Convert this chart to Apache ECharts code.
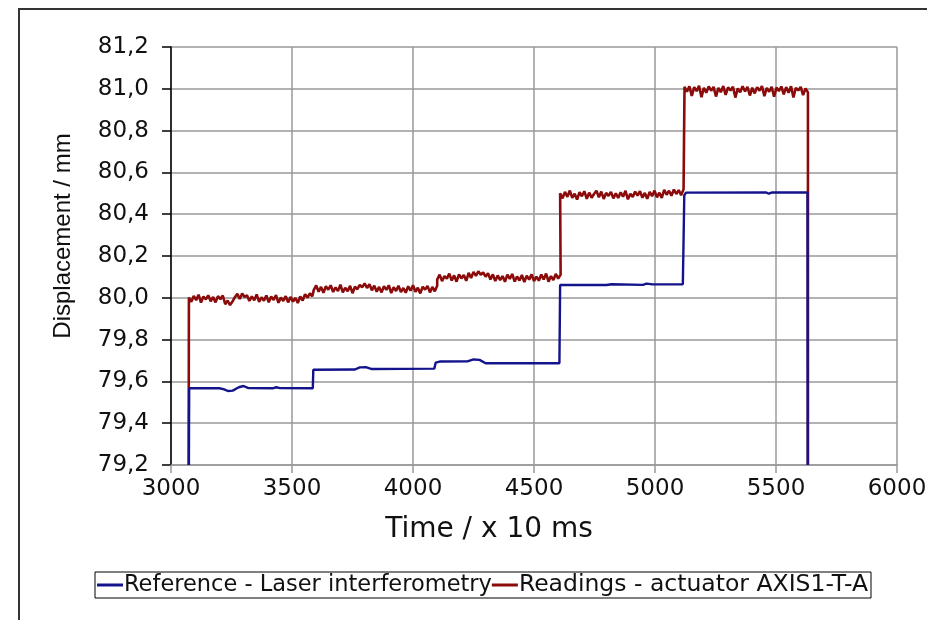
<!DOCTYPE html>
<html>
<head>
<meta charset="utf-8">
<script src="https://cdn.jsdelivr.net/npm/echarts@6/dist/echarts.min.js"></script>
<style>
  html, body { margin: 0; padding: 0; background: #fff; }
  #main { width: 927px; height: 620px; }
</style>
</head>
<body>
<div id="main"></div>
<script>
// x ticks: time in units of 10 ms
let xTicks = [3000, 3500, 4000, 4500, 5000, 5500, 6000];

// Reference - Laser interferometry
let refTime = [3074, 3075, 3200, 3220, 3235, 3255, 3280, 3300, 3320, 3420, 3435, 3450, 3586, 3588,
    3760, 3780, 3805, 3830, 4088, 4094, 4110, 4225, 4250, 4275, 4300, 4605, 4608, 4800, 4820, 4950,
    4965, 4990, 5115, 5121, 5128, 5460, 5470, 5485, 5630, 5631];
let refValue = [79.2, 79.567, 79.567, 79.562, 79.554, 79.556, 79.572, 79.578, 79.568, 79.567, 79.572, 79.568, 79.567, 79.656,
    79.657, 79.667, 79.668, 79.659, 79.661, 79.690, 79.695, 79.696, 79.705, 79.703, 79.687, 79.687, 80.061, 80.061, 80.065, 80.062,
    80.068, 80.064, 80.065, 80.490, 80.503, 80.504, 80.498, 80.504, 80.504, 79.2];

// Readings - actuator: plateau starts, plateau levels, sampled every 10 units
let readStart = [3074, 3590, 4100, 4608, 5122];
let readLevel = [79.997, 80.043, 80.097, 80.493, 80.996];
let readStep = 10;
// jitter around each plateau, in thousandths of mm (estimated)
let readNoise1 = [4,-16,12,-8,18,-20,9,-5,15,-14,7,-19,11,-4,14,-28,-10,-32,-15,6,22,-3,24,7,15,-12,10,-9,19,-16,5,-11,14,-18,9,-7,16,-21,4,-12,11,-19,7,-15,2,-22,9,-10,20,4,24,10];
let readNoise2 = [-5,16,-14,9,-19,12,-4,17,-15,7,-11,20,-17,5,-12,14,-21,10,-2,19,7,26,4,22,-7,15,-14,9,-17,12,-5,17,-20,7,-10,15,-16,4,-19,12,-9,17,-14,5,-22,10,-4,14,-17,9,-12,15];
let readNoise3 = [-10,14,-17,7,-5,19,-14,10,-20,15,-4,12,-16,22,-2,27,8,30,13,24,4,20,-9,15,-17,10,-12,7,-20,14,-7,17,-19,5,-14,12,-22,9,-10,15,-17,4,-15,14,-9,19,-20,7,-12,17,-5,14];
let readNoise4 = [7,-17,14,-10,20,-15,5,-23,12,-7,17,-19,10,-14,4,19,-12,15,-20,9,-5,14,-17,7,-15,12,-9,19,-22,5,-10,15,-4,17,-14,9,-19,14,-7,20,-12,10,-15,24,0,19,-5,25,4,22,-2,26];
let readNoise5 = [14,-10,16,-30,12,-7,18,-36,9,-15,15,-5,13,-33,8,-12,17,-25,11,-4,14,-38,6,-13,16,-9,13,-28,9,-18,12,-5,17,-31,8,-10,14,-34,10,-7,15,-23,12,-15,16,-37,9,-4,13,-26,6,-13];
let readNoise = [readNoise1, readNoise2, readNoise3, readNoise4, readNoise5];
let readEnd = 5632;

let refData = refTime.map(function (t, i) { return [t, refValue[i]]; });

let readData = [[readStart[0] - 1, 79.2]];
readStart.forEach(function (t0, k) {
    readNoise[k].forEach(function (n, i) {
        readData.push([t0 + i * readStep, +(readLevel[k] + n / 1000).toFixed(3)]);
    });
});
readData.push([readEnd, 79.2]);

let tickFont = 'DejaVu Sans';
let myChart = echarts.init(document.getElementById('main'));
let option = {
    animation: false,
    backgroundColor: '#fff',
    grid: { left: 171, right: 30, top: 47, bottom: 155, outerBoundsMode: 'none', containLabel: false },
    graphic: [
        {
            type: 'rect',
            shape: { x: 19, y: 9, width: 1000, height: 1000 },
            style: { fill: 'none', stroke: '#333', lineWidth: 2 },
            z: 100
        },
        {
            type: 'text',
            x: 63, y: 236,
            rotation: Math.PI / 2,
            style: {
                text: 'Displacement / mm',
                fontFamily: 'Liberation Sans', fontSize: 24,
                fill: '#111', align: 'center', verticalAlign: 'middle'
            }
        },
        {
            type: 'text',
            x: 489, y: 530,
            style: {
                text: 'Time / x 10 ms',
                fontFamily: tickFont, fontSize: 28,
                fill: '#111', align: 'center', verticalAlign: 'middle'
            }
        }
    ],
    legend: {
        left: 95,
        top: 572,
        padding: [1, 3, 1, 2],
        itemGap: 0,
        itemWidth: 26,
        itemHeight: 3,
        icon: 'rect',
        borderColor: '#000',
        borderWidth: 1,
        borderRadius: 0,
        textStyle: { fontFamily: tickFont, fontSize: 22.5, color: '#111', lineHeight: 22, padding: [0, 0, 0, -4] },
        data: [
            { name: 'Reference - Laser interferometry' },
            { name: 'Readings - actuator AXIS1-T-A', textStyle: { fontSize: 23.5 } }
        ]
    },
    xAxis: {
        type: 'value',
        min: xTicks[0],
        max: xTicks[xTicks.length - 1],
        interval: 500,
        axisLine: { show: true, lineStyle: { color: '#999', width: 1.5 } },
        axisTick: { show: true, length: 8, lineStyle: { color: '#999', width: 1.5 } },
        axisLabel: {
            margin: 13, color: '#111', fontFamily: tickFont, fontSize: 23,
            formatter: function (v) { return String(v); }
        },
        splitLine: { show: true, lineStyle: { color: '#999', width: 1.5 } }
    },
    yAxis: {
        type: 'value',
        min: 79.2,
        max: 81.2,
        interval: 0.2,
        axisLine: { show: true, lineStyle: { color: '#000', width: 1.5 } },
        axisTick: { show: true, length: 9, lineStyle: { color: '#000', width: 1.5 } },
        axisLabel: {
            margin: 22, color: '#111', fontFamily: tickFont, fontSize: 23,
            formatter: function (v) { return v.toFixed(1).replace('.', ','); }
        },
        splitLine: { show: true, lineStyle: { color: '#999', width: 1.5 } }
    },
    series: [
        {
            name: 'Readings - actuator AXIS1-T-A',
            type: 'line',
            data: readData,
            showSymbol: false,
            symbol: 'none',
            color: '#8b0a0a',
            lineStyle: { color: '#8b0a0a', width: 2.6 },
            z: 2
        },
        {
            name: 'Reference - Laser interferometry',
            type: 'line',
            data: refData,
            showSymbol: false,
            symbol: 'none',
            color: '#13138c',
            lineStyle: { color: '#13138c', width: 2.4 },
            z: 3
        }
    ]
};
myChart.setOption(option);
</script>
</body>
</html>
